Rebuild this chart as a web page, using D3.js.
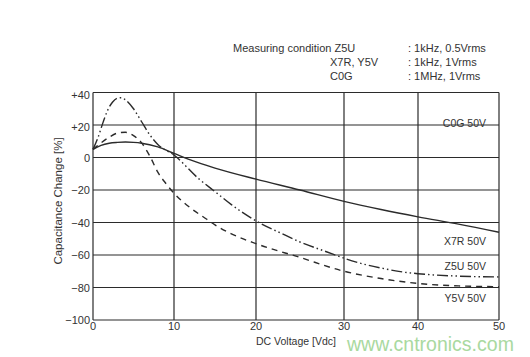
<!DOCTYPE html>
<html><head><meta charset="utf-8">
<script src="https://cdn.jsdelivr.net/npm/d3@7"></script>
<style>body{margin:0;background:#fff;}svg{display:block;font-family:Arial,"Liberation Sans",sans-serif;}</style>
</head><body><svg id="c" width="530" height="357"></svg>
<script>
const xTicks = [0,10,20,30,40,50];
const yTicks = [40,20,0,-20,-40,-60,-80,-100];
const yTickLabels = ["+40","+20","0","\u221220","\u221240","\u221260","\u221280","\u2212100"];
const c0gV = [0,1,2,3,4,5,6,8,10,12,15,20,25,30,35,40,45,50];
const c0gC = [5,7.5,8.8,9.3,9.5,9.3,8.8,6.5,2.5,-1.5,-6.5,-13.3,-20,-27,-32,-36.5,-41,-46];
const x7rV = [0,0.6,1.2,1.8,2.4,3,3.5,4,5,6,7,8,10,13,15,17,20,23,25,28,30,33,35,38,40,45,50];
const x7rC = [5,12,21,29,34,36.5,36.8,35.5,30,22,14,8,1.5,-13,-21,-29,-39,-47,-52,-58,-62,-66,-68,-70.5,-71.5,-73,-73.5];
const y5vV = [0,1,2,3,4,5,6,7,8,9,10,12,14,15,17,20,25,30,35,40,45,50];
const y5vC = [5,9,12.5,15,15.5,13.5,9,1,-9,-16,-22,-31,-38,-41.5,-47,-53,-61.5,-70,-74.5,-77.5,-79,-79.5];
const conditionRows = [["Measuring condition Z5U",": 1kHz, 0.5Vrms"],["X7R, Y5V",": 1kHz, 1Vrms"],["C0G",": 1MHz, 1Vrms"]];
const curveLabels = [{t:"C0G 50V",v:19},{t:"X7R 50V",v:-54},{t:"Z5U 50V",v:-69.5},{t:"Y5V 50V",v:-89}];

const svg = d3.select("#c");
const ink = "#2b2b2b";
const x = d3.scaleLinear().domain(xTicks).range([93,174,256,344,418,499]);
const y = d3.scaleLinear().domain([40,-100]).range([92.5,320]);

// grid
svg.append("g").selectAll("line").data(xTicks).join("line")
  .attr("x1",d=>x(d)).attr("x2",d=>x(d)).attr("y1",y(40)).attr("y2",y(-100))
  .attr("stroke",ink).attr("stroke-width",1.2);
svg.append("g").selectAll("line").data(yTicks).join("line")
  .attr("x1",x(0)).attr("x2",x(50)).attr("y1",d=>y(d)).attr("y2",d=>y(d))
  .attr("stroke",ink).attr("stroke-width",1.2);

// tick labels
svg.append("g").selectAll("text").data(yTicks).join("text")
  .attr("x",x(0)-3).attr("y",(d,i)=>y(d)+4+(i<2?2:0)).attr("text-anchor","end")
  .attr("font-size",11).attr("fill","#333").text((d,i)=>yTickLabels[i]);
svg.append("g").selectAll("text").data(xTicks).join("text")
  .attr("x",d=>x(d)).attr("y",330).attr("text-anchor","middle")
  .attr("font-size",11).attr("fill","#333").text(d=>d);

// axis titles
svg.append("text").attr("transform","translate(62,201) rotate(-90)").attr("text-anchor","middle")
  .attr("font-size",11.5).attr("fill","#333").text("Capacitance Change [%]");
svg.append("text").attr("x",296).attr("y",345).attr("text-anchor","middle")
  .attr("font-size",10.5).attr("fill","#333").text("DC Voltage [Vdc]");

// curves
const line = d3.line().x(d=>x(d[0])).y(d=>y(d[1])).curve(d3.curveMonotoneX);
const series = [
  {v:c0gV,c:c0gC,dash:null},
  {v:x7rV,c:x7rC,dash:"11,3,1.5,3,1.5,3"},
  {v:y5vV,c:y5vC,dash:"6,5"}
];
series.forEach(s=>{
  svg.append("path").datum(s.v.map((v,i)=>[v,s.c[i]])).attr("d",line)
    .attr("fill","none").attr("stroke",ink).attr("stroke-width",1.4)
    .attr("stroke-dasharray",s.dash);
});

// curve labels
svg.append("g").selectAll("text").data(curveLabels).join("text")
  .attr("x",486).attr("y",d=>y(d.v)).attr("text-anchor","end")
  .attr("font-size",10.5).attr("fill","#333").text(d=>d.t);

// measuring condition
const cond = svg.append("g").attr("font-size",11).attr("fill","#333");
conditionRows.forEach((r,i)=>{
  cond.append("text").attr("x",i===0?233:330).attr("y",52+i*14).text(r[0]);
  cond.append("text").attr("x",408).attr("y",52+i*14).text(r[1]);
});

// watermark
svg.append("text").attr("x",347).attr("y",351).attr("font-size",19.5)
  .attr("fill","#a9d9a0").text("www.cntronics.com");
</script></body></html>
